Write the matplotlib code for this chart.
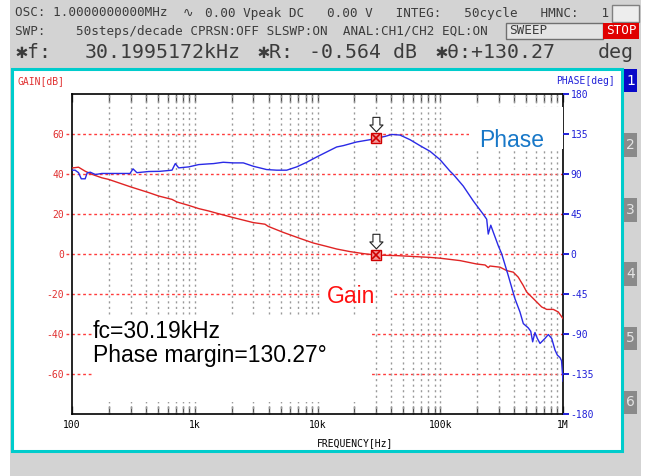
import matplotlib
matplotlib.use('Agg')
import matplotlib.pyplot as plt
from matplotlib.patches import Rectangle
from matplotlib.ticker import FixedLocator, LogLocator, NullFormatter

W, H = 647, 476
MONO = ['DejaVu Sans Mono', 'DejaVu Sans']
SANS = ['Liberation Sans', 'DejaVu Sans']

# gain sweep (Hz, dB)
freq_gain = [100, 113, 128, 146, 175, 199, 240, 299, 349, 422,
             508, 653, 717, 893, 1077, 1300, 1510, 2061, 3000, 3734,
             3972, 5262, 7194, 9240, 11880, 14320, 18400, 23600, 30200, 44200,
             82600, 99500, 145000, 198000, 232000, 246000, 254000, 307000, 348000, 394000,
             432000, 475000, 506000, 556000, 611000, 671000, 737000, 834000, 916000, 1000000]
gain = [43.0, 43.4, 41.4, 39.8, 38.1, 37.3, 35.6, 33.6, 32.3, 30.7,
        29.0, 27.3, 26.0, 24.3, 22.7, 21.5, 20.4, 18.2, 15.7, 14.9,
        13.8, 10.8, 7.8, 5.5, 3.8, 2.5, 1.2, 0.2, -0.564, -0.8,
        -1.7, -2.1, -3.3, -5.0, -5.5, -6.8, -6.0, -6.6, -8.3, -9.1,
        -11.6, -15.8, -19.0, -21.5, -24.0, -26.5, -27.7, -27.7, -29.0, -32.3]

# phase sweep (Hz, deg)
freq_phase = [100, 106, 113, 119, 128, 133, 141, 155, 175, 255,
              297, 314, 338, 422, 520, 653, 694, 740, 893, 1077,
              1300, 1420, 1706, 2061, 2487, 3000, 3850, 4645, 5612, 6770,
              8170, 9860, 11880, 14320, 16200, 20800, 26800, 30200, 35500, 40300,
              47000, 56700, 68400, 82600, 99500, 120000, 128000, 154000, 186000, 224000,
              239000, 246000, 258000, 271000, 297000, 317000, 358000, 406000, 446000, 475000,
              521000, 546000, 566000, 591000, 618000, 650000, 713000, 759000, 809000, 861000,
              899000, 946000, 973000, 1000000]
phase = [94.3, 94.3, 91.5, 84.6, 84.6, 91.3, 92.0, 89.4, 90.6, 90.6,
         90.6, 95.8, 91.5, 92.8, 93.0, 94.3, 101.7, 96.9, 98.0, 100.6,
         101.4, 101.7, 103.2, 102.5, 102.5, 98.7, 95.0, 94.3, 94.3, 98.0,
         103.2, 109.2, 114.8, 120.4, 121.9, 126.0, 128.6, 130.27, 132.3, 134.5,
         133.8, 128.6, 121.9, 115.5, 106.2, 93.2, 89.4, 76.4, 59.6, 44.7,
         39.1, 22.4, 32.4, 24.2, 9.3, 0.0, -24.2, -50.3, -65.2, -78.3,
         -83.1, -86.9, -98.8, -88.3, -95.0, -100.6, -95.0, -90.6, -95.0, -108.1,
         -113.7, -116.6, -120.0, -143.0]

# marker readout
marker_freq = 30199.5172
marker_gain = -0.564
marker_phase = 130.27

gain_ticks = [-60, -40, -20, 0, 20, 40, 60]
phase_ticks = [-180, -135, -90, -45, 0, 45, 90, 135, 180]
freq_ticks = [100, 1000, 10000, 100000, 1000000]
freq_labels = ['100', '1k', '10k', '100k', '1M']

fig = plt.figure(figsize=(W / 100, H / 100), dpi=100)
fig.patch.set_facecolor('white')


def fx(x):
    return x / W


def fy(y):
    return 1 - y / H


def box(x0, y0, x1, y1, **kw):
    fig.add_artist(Rectangle((fx(x0), fy(y1)), (x1 - x0) / W, (y1 - y0) / H,
                             transform=fig.transFigure, **kw))


def label(x, y, s, **kw):
    fig.text(fx(x), fy(y), s, **kw)


# screen background and measurement panel
box(10, 0, 641, 476, facecolor='#d3d3d3', edgecolor='none', zorder=-3)
box(12, 69, 622, 451, facecolor='white', edgecolor='#00cccc', linewidth=2.2, zorder=-2)

# status lines (monospaced, one cell = 7.6 px)
CELL = 7.6
HDR = dict(family=MONO, color='#3c3c3c', va='center', fontsize=9.1)
label(15, 13, 'OSC: 1.0000000000MHz', **HDR)
label(15 + 22 * CELL, 13, '∿', **HDR)
label(15 + 25 * CELL, 13, '0.00 Vpeak DC   0.00 V   INTEG:   50cycle   HMNC:   1', **HDR)
box(612, 5, 639, 22, facecolor='#ededed', edgecolor='#808080', linewidth=1)

label(15, 31, 'SWP:    50steps/decade CPRSN:OFF SLSWP:ON  ANAL:CH1/CH2 EQL:ON', **HDR)
box(506, 23, 603, 39, facecolor='#e4e4e4', edgecolor='#707070', linewidth=1)
label(509, 31, 'SWEEP', **HDR)
box(603, 23, 639, 39, facecolor='#e00000', edgecolor='none')
label(621, 31, 'STOP', family=MONO, color='white', va='center', ha='center', fontsize=9.1)

BIG = dict(family=MONO, color='#3c3c3c', va='center', fontsize=14.3)
for x, s in [(15, '✱f:'), (85, '30.1995172kHz'), (257, '✱R:'), (309, '-0.564 dB'),
             (436, '✱θ:+130.27'), (598, 'deg')]:
    label(x, 52, s, **BIG)

# trace selector buttons
for i, (y0, y1) in enumerate([(69, 92), (133, 157), (198, 222), (262, 286), (327, 350), (391, 414)]):
    active = i == 0
    box(624, y0, 637, y1, facecolor='#0808c8' if active else '#8a8a8a', edgecolor='none')
    label(630.5, (y0 + y1) / 2, str(i + 1), ha='center', va='center', fontsize=10,
          color='white' if active else '#e4e4e4', family=['DejaVu Sans'])

# axis titles
label(18, 81, 'GAIN[dB]', family=MONO, fontsize=7, color='#e03030', va='center')
label(615, 81, 'PHASE[deg]', family=MONO, fontsize=7, color='#2020d8', va='center', ha='right')
label(355, 443, 'FREQUENCY[Hz]', family=MONO, fontsize=7, color='black', va='center', ha='center')

# bode axes
ax = fig.add_axes([fx(72), fy(414), 491 / W, 320 / H])
ax.set_xscale('log')
ax.set_xlim(100, 1e6)
ax.set_ylim(-80, 80)
ax.set_facecolor('white')
ax2 = ax.twinx()
ax2.set_ylim(-180, 180)
ax2.patch.set_visible(False)

# dotted grid
for v in gain_ticks:
    ax.plot([-0.013, 1], [v, v], transform=ax.get_yaxis_transform(), color='#ff3c3c',
            ls=(0, (2, 2)), lw=1, clip_on=False, zorder=1)
for d in range(2, 6):
    for m in range(1, 10):
        f = m * 10 ** d
        if 100 < f < 1e6:
            ax.axvline(f, color='#9a9a9a', ls=(0, (1.5, 2.5)), lw=1, zorder=2)

ax.xaxis.set_major_locator(FixedLocator(freq_ticks))
ax.xaxis.set_minor_locator(LogLocator(base=10, subs=range(2, 10)))
ax.xaxis.set_minor_formatter(NullFormatter())
ax.set_xticklabels(freq_labels, family=MONO, fontsize=7)
ax.tick_params(axis='x', which='both', direction='in', top=True, bottom=True,
               length=6, width=1, color='#555555', pad=4)

ax.set_yticks(gain_ticks)
ax.set_yticklabels([str(v) for v in gain_ticks], family=MONO, fontsize=7, color='#e03030')
ax.tick_params(axis='y', length=0, pad=5.5)

ax2.set_yticks(phase_ticks)
ax2.set_yticklabels([str(v) for v in phase_ticks], family=MONO, fontsize=7, color='#2020d8')
ax2.tick_params(axis='y', direction='out', length=4, width=1.4, color='#2020d8', pad=1.5)

for s in ax.spines.values():
    s.set_color('black')
    s.set_linewidth(1.2)
for s in ax2.spines.values():
    s.set_visible(False)

# note boxes
ax.add_patch(Rectangle((0.505, 0.3375), 0.151, 0.0725, transform=ax.transAxes,
                       facecolor='white', edgecolor='none', zorder=1.5))
ax.text(0.519, 0.347, 'Gain', transform=ax.transAxes, family=SANS, fontsize=16.5,
        color='#ff1010', va='baseline', zorder=3)
ax2.add_patch(Rectangle((0.041, 0.0375), 0.57, 0.2715, transform=ax2.transAxes,
                        facecolor='white', edgecolor='none', zorder=2.5))
ax2.add_patch(Rectangle((0.809, 0.828), 0.191, 0.131, transform=ax2.transAxes,
                        facecolor='white', edgecolor='none', zorder=2.5))
ax2.text(0.043, 0.2375, 'fc=30.19kHz', transform=ax2.transAxes, family=SANS,
         fontsize=16.5, color='black', va='baseline', zorder=3)
ax2.text(0.043, 0.163, 'Phase margin=130.27°', transform=ax2.transAxes, family=SANS,
         fontsize=16.5, color='black', va='baseline', zorder=3)
ax2.text(0.829, 0.835, 'Phase', transform=ax2.transAxes, family=SANS, fontsize=16.5,
         color='#1878c8', va='baseline', zorder=3)

# traces
ax.plot(freq_gain, gain, color='#e02424', lw=1, zorder=4)
ax2.plot(freq_phase, phase, color='#2a2ae6', lw=1, zorder=4)

# marker at the crossover
for a, v in [(ax, marker_gain), (ax2, marker_phase)]:
    a.plot([marker_freq], [v], marker='s', ms=7, mfc='#f29a9a', mec='#d00000', mew=1, zorder=5)
    a.plot([marker_freq], [v], marker='x', ms=6, color='#d00000', mew=1.2, zorder=6)
    a.annotate('', xy=(marker_freq, v), xytext=(0, 15), textcoords='offset points',
               arrowprops=dict(arrowstyle='simple,head_length=0.5,head_width=0.95,tail_width=0.5',
                               fc='white', ec='#222222', lw=0.8, shrinkA=0, shrinkB=4.5),
               zorder=7)

fig.savefig('out.png', dpi=100, facecolor=fig.get_facecolor())
